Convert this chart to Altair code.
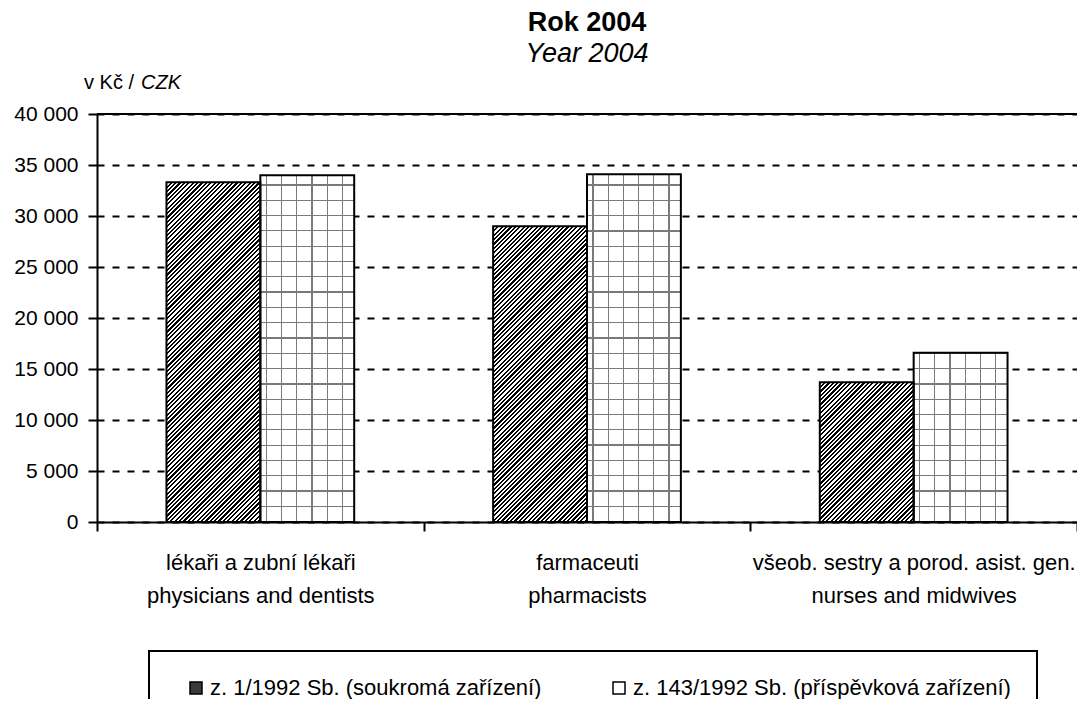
import math
import altair as alt
import pandas as pd

# ---------------- data ----------------
title_main = "Rok 2004"
title_sub = "Year 2004"
unit_cz = "v Kč /"
unit_en = "CZK"
categories_cz = ["lékaři a zubní lékaři", "farmaceuti", "všeob. sestry a porod. asist. gen."]
categories_en = ["physicians and dentists", "pharmacists", "nurses and midwives"]
series_names = ["z. 1/1992 Sb. (soukromá zařízení)", "z. 143/1992 Sb. (příspěvková zařízení)"]
values_private = [33300, 29000, 13700]
values_contrib = [34000, 34100, 16600]
y_ticks = [0, 5000, 10000, 15000, 20000, 25000, 30000, 35000, 40000]

# ---------------- layout / style ----------------
PLOT_W, PLOT_H = 980, 408
Y_MAX = 40000
XO_PAD = 0.74
BAND = PLOT_W / len(categories_cz)
BAR_W = BAND / (2 + 2 * XO_PAD)
FONT = "Liberation Sans, Arial, sans-serif"

cat_keys = [f"{a}|{b}" for a, b in zip(categories_cz, categories_en)]
rows = []
for k, v1, v2 in zip(cat_keys, values_private, values_contrib):
    rows.append({"cat": k, "series": series_names[0], "value": v1})
    rows.append({"cat": k, "series": series_names[1], "value": v2})
df = pd.DataFrame(rows)


def px_h(v):
    return v / Y_MAX * PLOT_H


def stops_to_gradient(stops, x1, y1, x2, y2):
    return alt.LinearGradient(
        gradient="linear",
        stops=[alt.GradientStop(offset=round(min(max(o, 0), 1), 5), color=c) for o, c in stops],
        x1=x1, y1=y1, x2=x2, y2=y2,
    )


def hatch_fill(h, w, period=3.1, ink=0.5):
    s = (1 / h + 1 / w) / (1 / h ** 2 + 1 / w ** 2)
    a, b = s / h, s / w
    L = (w + h) / math.sqrt(2)
    stops = []
    k = 0
    while k * period < L:
        t0 = k * period / L
        t1 = (k * period + ink * period) / L
        t2 = (k + 1) * period / L
        stops += [(t0, "#000000"), (min(t1, 1), "#000000"),
                  (min(t1, 1), "#ffffff"), (min(t2, 1), "#ffffff")]
        k += 1
    return stops_to_gradient(stops, 0, 0, a, b)


LINE_C = "#7a7a7a"
CLEAR = "rgba(255,255,255,0)"


def lines_fill(positions, length, vertical, lw=1.2):
    stops = [(0, CLEAR)]
    for p in positions:
        t0 = (p - lw / 2) / length
        t1 = (p + lw / 2) / length
        if t1 <= 0 or t0 >= 1:
            continue
        stops += [(t0, CLEAR), (t0, LINE_C), (t1, LINE_C), (t1, CLEAR)]
    stops.append((1, CLEAR))
    if vertical:
        return stops_to_gradient(stops, 0, 0, 1, 0)
    return stops_to_gradient(stops, 0, 0, 0, 1)


x_enc = alt.X(
    "cat:N", sort=cat_keys,
    scale=alt.Scale(paddingInner=0, paddingOuter=0),
    axis=alt.Axis(title=None, labelExpr="split(datum.label, '|')", tickBand="extent",
                  labelAngle=0, grid=False),
)
xo_enc = alt.XOffset("series:N", sort=series_names,
                     scale=alt.Scale(paddingInner=0, paddingOuter=XO_PAD))
y_enc = alt.Y(
    "value:Q",
    scale=alt.Scale(domain=[0, Y_MAX], nice=False, zero=True),
    axis=alt.Axis(title=None, values=y_ticks, grid=True,
                  labelExpr="replace(format(datum.value, ','), ',', ' ')"),
)

base = alt.Chart(df)

bars = base.mark_bar(strokeWidth=0).encode(
    x=x_enc, xOffset=xo_enc, y=y_enc,
    color=alt.Color(
        "series:N", sort=series_names,
        scale=alt.Scale(domain=series_names, range=["#3a3a3a", "#ffffff"]),
        legend=alt.Legend(
            orient="none", legendX=52, legendY=537, direction="horizontal", title=None,
            strokeColor="black", fillColor="white", padding=26,
            symbolType="square", symbolSize=144, symbolStrokeColor="black",
            symbolStrokeWidth=1.5, symbolOffset=10,
            labelFont=FONT, labelFontSize=22, labelColor="black", labelLimit=800,
            labelOffset=3, columnPadding=56,
        ),
    ),
)

layers = [bars]
for key, v1, v2 in zip(cat_keys, values_private, values_contrib):
    # hatched bar
    h1 = px_h(v1)
    layers.append(
        base.transform_filter(alt.FieldEqualPredicate(field="cat", equal=key))
        .transform_filter(alt.FieldEqualPredicate(field="series", equal=series_names[0]))
        .mark_bar(strokeWidth=0, fill=hatch_fill(h1, BAR_W))
        .encode(x=x_enc, xOffset=xo_enc, y=y_enc)
    )
    # dotted grid bar
    h2 = px_h(v2)
    top2 = PLOT_H - h2
    hpos = [9.8 + 15.3 * k - top2 for k in range(40)]
    vpos = [6 + 15.2 * k for k in range(10)]
    for fill in (lines_fill(vpos, BAR_W, True), lines_fill(hpos, h2, False)):
        layers.append(
            base.transform_filter(alt.FieldEqualPredicate(field="cat", equal=key))
            .transform_filter(alt.FieldEqualPredicate(field="series", equal=series_names[1]))
            .mark_bar(strokeWidth=0, fill=fill)
            .encode(x=x_enc, xOffset=xo_enc, y=y_enc)
        )

outline = base.mark_bar(fillOpacity=0, stroke="black", strokeWidth=2).encode(
    x=x_enc, xOffset=xo_enc, y=y_enc
)
layers.append(outline)

top_rule = alt.Chart(pd.DataFrame({"value": [Y_MAX]})).mark_rule(
    color="black", strokeWidth=2
).encode(y=y_enc)
layers.append(top_rule)

unit1 = alt.Chart(pd.DataFrame({"t": [unit_cz]})).mark_text(
    align="left", baseline="alphabetic", font=FONT, fontSize=20, color="black"
).encode(text="t:N", x=alt.value(-13), y=alt.value(-25))
unit2 = alt.Chart(pd.DataFrame({"t": [unit_en]})).mark_text(
    align="left", baseline="alphabetic", font=FONT, fontSize=20, color="black",
    fontStyle="italic"
).encode(text="t:N", x=alt.value(44), y=alt.value(-25))
layers += [unit1, unit2]

chart = alt.layer(*layers).properties(
    width=PLOT_W, height=PLOT_H,
    padding={"left": 89, "top": 106, "right": 0, "bottom": 177},
    autosize=alt.AutoSizeParams(type="none"),
    title=alt.TitleParams(
        text=title_main, subtitle=title_sub, anchor="middle",
        font=FONT, fontSize=27, fontWeight="bold", color="black",
        subtitleFont=FONT, subtitleFontSize=27, subtitleFontStyle="italic",
        subtitleColor="black", subtitlePadding=4, offset=5,
    ),
).configure_view(stroke=None).configure_legend(
    strokeWidth=2
).configure_axisY(
    domainColor="black", domainWidth=2, tickColor="black", tickWidth=2, tickSize=9,
    labelFont=FONT, labelFontSize=21, labelColor="black", labelPadding=10,
    gridColor="black", gridDash=[7, 8], gridWidth=2, gridOpacity=1,
).configure_axisX(
    domainColor="black", domainWidth=2, tickColor="black", tickWidth=2, tickSize=9,
    labelFont=FONT, labelFontSize=22, labelColor="black", labelPadding=21,
    labelLineHeight=33, labelLimit=600,
)

chart.save("out.html", embed_options={"renderer": "svg", "actions": False})
